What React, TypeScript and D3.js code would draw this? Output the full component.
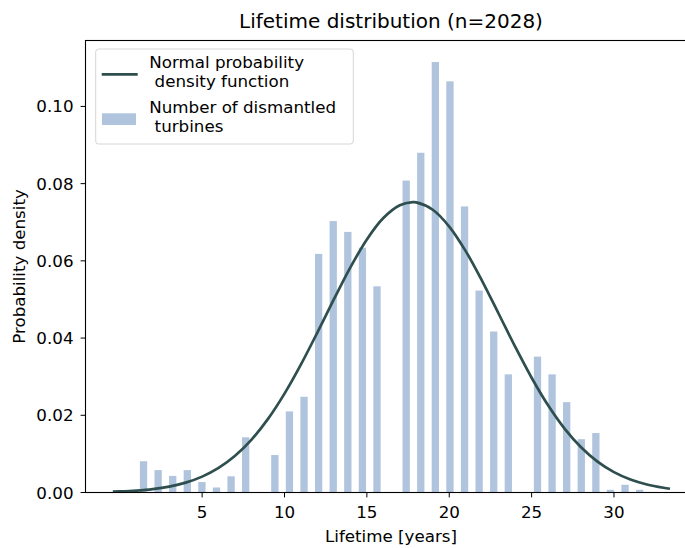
import React from "react";
import * as d3 from "d3";

// Histogram: 35 bins from 1 to 32 years (density)
const binStart = 1;
const binEnd = 32;
const density = [
  0.0081, 0.0058, 0.0043, 0.0058, 0.0027, 0.0013, 0.0042, 0.0143, 0, 0.0097,
  0.021, 0.0248, 0.0618, 0.0703, 0.0675, 0.0634, 0.0534, 0, 0.0808, 0.088,
  0.1115, 0.1065, 0.0741, 0.0523, 0.0417, 0.0306, 0, 0.0352, 0.0306, 0.0234,
  0.0138, 0.0154, 0.0007, 0.002, 0.0007,
];

// Normal PDF curve samples
const curveX = [
  -0.42, 0, 1, 2, 3, 4, 5, 6, 7, 8, 9, 10, 11, 12, 13, 14, 15, 16, 17, 17.78,
  18, 19, 20, 21, 22, 23, 24, 25, 26, 27, 28, 29, 30, 31, 32, 33, 33.4,
];
const curveY = [
  0.00021, 0.00027, 0.0005, 0.00089, 0.00154, 0.00256, 0.00411, 0.00636,
  0.0095, 0.0137, 0.01906, 0.0256, 0.03318, 0.04149, 0.05007, 0.05832, 0.06554,
  0.07108, 0.07439, 0.0752, 0.07514, 0.07324, 0.06888, 0.06252, 0.05477,
  0.0463, 0.03777, 0.02973, 0.02259, 0.01656, 0.01172, 0.008, 0.00527, 0.00335,
  0.00206, 0.00122, 0.00098,
];

const xTicks = [5, 10, 15, 20, 25, 30];
const yTicks = [0, 0.02, 0.04, 0.06, 0.08, 0.1];

const title = "Lifetime distribution (n=2028)";
const xLabel = "Lifetime [years]";
const yLabel = "Probability density";
const legendLine = ["Normal probability", " density function"];
const legendBar = ["Number of dismantled", " turbines"];

const FONT = "'DejaVu Sans', sans-serif";
const BAR_COLOR = "#b0c4de";
const LINE_COLOR = "#2f4f4f";
const FS = 16.7;
const TITLE_FS = 20;

export default function App() {
  const left = 85.5;
  const right = 698;
  const top = 40.5;
  const bottom = 492.5;

  const x = d3.scaleLinear().domain([-2.08, 35.1]).range([left, right]);
  const yMax = (d3.max(density) as number) * 1.05;
  const y = d3.scaleLinear().domain([0, yMax]).range([bottom, top]);

  const binW = (binEnd - binStart) / density.length;
  const line = d3
    .line<number>()
    .x((_, i) => x(curveX[i]))
    .y((d) => y(d))
    .curve(d3.curveCatmullRom);

  return (
    <svg
      width={685}
      height={548}
      style={{ position: "absolute", left: 0, top: 0, background: "#fff" }}
      fontFamily={FONT}
    >
      <rect x={0} y={0} width={685} height={548} fill="#fff" />
      {/* bars */}
      {density.map((d, i) => {
        if (d <= 0) return null;
        const c = binStart + (i + 0.5) * binW;
        const x0 = x(c - binW * 0.25);
        const x1 = x(c + binW * 0.25);
        return (
          <rect
            key={i}
            x={x0}
            y={y(d)}
            width={x1 - x0}
            height={y(0) - y(d)}
            fill={BAR_COLOR}
          />
        );
      })}
      {/* curve */}
      <path d={line(curveY) || ""} fill="none" stroke={LINE_COLOR} strokeWidth={2.7} />

      {/* spines */}
      <rect
        x={left}
        y={top}
        width={right - left}
        height={bottom - top}
        fill="none"
        stroke="#000"
        strokeWidth={1.1}
      />

      {/* x ticks */}
      {xTicks.map((t) => (
        <g key={t}>
          <line x1={x(t)} x2={x(t)} y1={bottom} y2={bottom + 4.9} stroke="#000" />
          <text x={x(t)} y={518} fontSize={FS} textAnchor="middle" fill="#000">
            {t}
          </text>
        </g>
      ))}
      {/* y ticks */}
      {yTicks.map((t) => (
        <g key={t}>
          <line x1={left} x2={left - 4.9} y1={y(t)} y2={y(t)} stroke="#000" />
          <text
            x={73.5}
            y={y(t)}
            dy="0.36em"
            fontSize={FS}
            textAnchor="end"
            fill="#000"
          >
            {t.toFixed(2)}
          </text>
        </g>
      ))}

      {/* labels */}
      <text x={391} y={28.3} fontSize={TITLE_FS} textAnchor="middle" fill="#000">
        {title}
      </text>
      <text x={391} y={541.5} fontSize={FS} textAnchor="middle" fill="#000">
        {xLabel}
      </text>
      <text
        transform={`translate(25,${(top + bottom) / 2}) rotate(-90)`}
        fontSize={FS}
        textAnchor="middle"
        fill="#000"
      >
        {yLabel}
      </text>

      {/* legend */}
      <rect
        x={95.7}
        y={49}
        width={257.6}
        height={95}
        rx={3}
        fill="#fff"
        fillOpacity={0.8}
        stroke="#d6d6d6"
        strokeWidth={1}
      />
      <line x1={101.7} x2={137.7} y1={74.3} y2={74.3} stroke={LINE_COLOR} strokeWidth={2.7} />
      <rect x={102} y={113.3} width={34} height={11.7} fill={BAR_COLOR} />
      {legendLine.map((s, i) => (
        <text
          key={"l" + i}
          x={149.3}
          y={68.3 + i * 18.4}
          fontSize={FS}
          fill="#000"
          style={{ whiteSpace: "pre" }}
        >
          {s}
        </text>
      ))}
      {legendBar.map((s, i) => (
        <text
          key={"b" + i}
          x={149.3}
          y={113.3 + i * 18.4}
          fontSize={FS}
          fill="#000"
          style={{ whiteSpace: "pre" }}
        >
          {s}
        </text>
      ))}
    </svg>
  );
}
